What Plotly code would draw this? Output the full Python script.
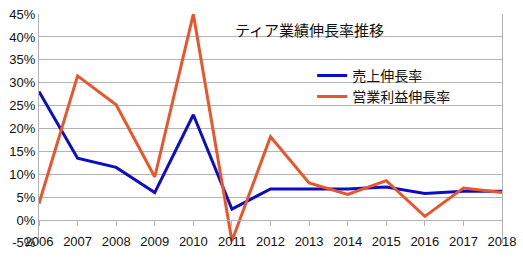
import plotly.graph_objects as go

years = [2006, 2007, 2008, 2009, 2010, 2011, 2012, 2013, 2014, 2015, 2016, 2017, 2018]
sales_growth = [28.1, 13.5, 11.5, 6.0, 23.0, 2.4, 6.8, 6.8, 6.8, 7.2, 5.8, 6.3, 6.3]
op_profit_growth = [3.6, 31.5, 25.2, 9.4, 45.0, -4.6, 18.2, 8.1, 5.6, 8.6, 0.8, 7.0, 6.0]
y_ticks = [-5, 0, 5, 10, 15, 20, 25, 30, 35, 40, 45]
y_ticktext = [f"{v}%" for v in y_ticks]

fig = go.Figure()
fig.add_trace(go.Scatter(x=years, y=sales_growth, mode="lines", name="売上伸長率",
                         line=dict(color="#0d0dc4", width=3)))
fig.add_trace(go.Scatter(x=years, y=op_profit_growth, mode="lines", name="営業利益伸長率",
                         line=dict(color="#e9562b", width=3)))

fig.update_layout(
    width=523, height=257,
    margin=dict(l=39, r=17, t=7, b=7),
    paper_bgcolor="white", plot_bgcolor="white",
    font=dict(family="Liberation Sans, Arial, sans-serif", size=13, color="#111"),
    showlegend=True,
    legend=dict(x=0.59, y=0.80, xanchor="left", yanchor="top",
                font=dict(family="Noto Sans CJK JP", size=14, color="#111"),
                bgcolor="rgba(0,0,0,0)", itemwidth=30, tracegroupgap=0),
    annotations=[dict(text="ティア業績伸長率推移", x=0.585, xref="paper", y=0.985, yref="paper",
                      xanchor="center", yanchor="top", showarrow=False,
                      font=dict(family="Noto Sans CJK JP", size=15, color="#111"))],
)

fig.update_xaxes(
    range=[2006, 2018], tickmode="array", tickvals=years, ticktext=[str(y) for y in years],
    showgrid=False, showline=True, linecolor="#b3b3b3", linewidth=1,
    ticks="outside", ticklen=5, tickcolor="#b3b3b3",
    anchor="free", position=0.1, zeroline=False, ticklabelstandoff=4,
    tickfont=dict(size=13, color="#111"), ticklabeloverflow="allow",
)
fig.update_yaxes(
    range=[-5.02, 45.02], tickmode="array", tickvals=y_ticks, ticktext=y_ticktext,
    showgrid=True, gridcolor="#b3b3b3", gridwidth=1,
    showline=True, linecolor="#b3b3b3", linewidth=1, mirror=True,
    zeroline=False, ticks="", tickfont=dict(size=13, color="#111"),
    ticklabeloverflow="allow",
)

fig.write_html("out.html")
